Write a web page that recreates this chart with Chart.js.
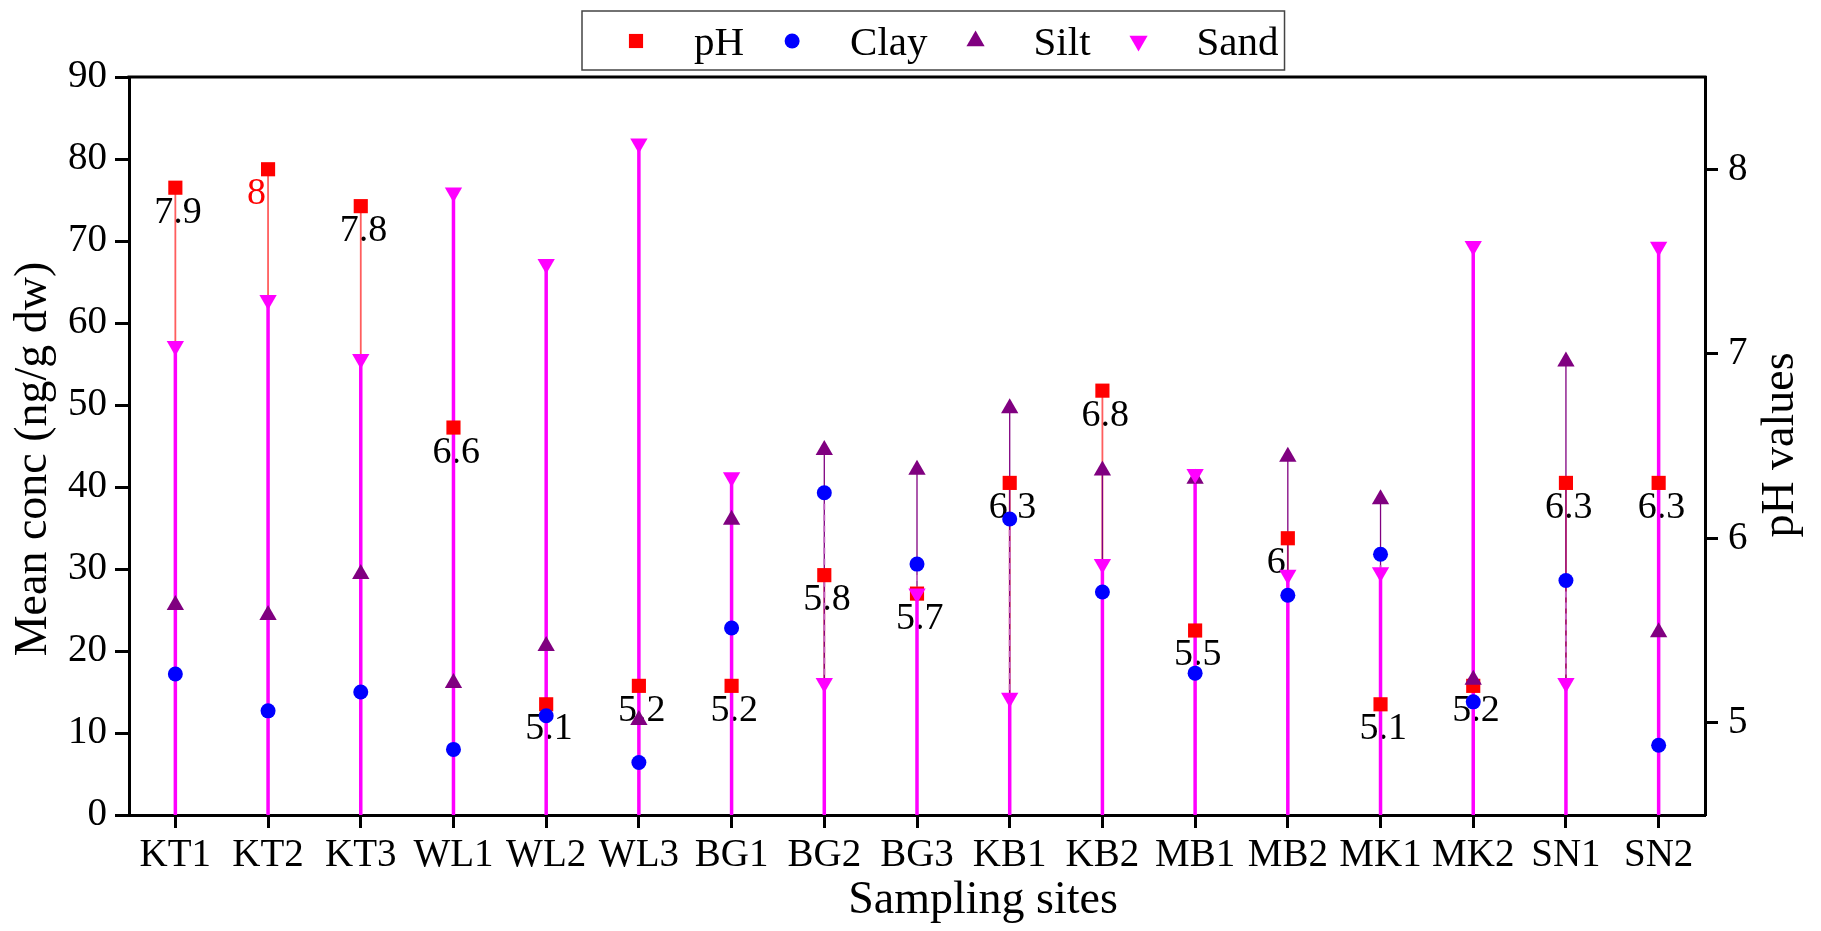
<!DOCTYPE html>
<html>
<head>
<meta charset="utf-8">
<script src="https://cdn.jsdelivr.net/npm/chart.js@4.4.1/dist/chart.umd.min.js"></script>
<style>
  html, body { margin: 0; padding: 0; background: #fff; }
</style>
</head>
<body>
<canvas id="chart" width="1821" height="931"></canvas>
<script>
// sampling sites on the x axis
const sites = ['KT1', 'KT2', 'KT3', 'WL1', 'WL2', 'WL3', 'BG1', 'BG2', 'BG3',
               'KB1', 'KB2', 'MB1', 'MB2', 'MK1', 'MK2', 'SN1', 'SN2'];
// pH (right axis)
const phValues = [7.9, 8, 7.8, 6.6, 5.1, 5.2, 5.2, 5.8, 5.7, 6.3, 6.8, 5.5, 6, 5.1, 5.2, 6.3, 6.3];
// grain size fractions (left axis)
const clay = [17.2, 12.7, 15.0, 8.0, 12.1, 6.4, 22.8, 39.3, 30.6, 36.1, 27.2, 17.3, 26.8, 31.8, 13.8, 28.6, 8.5];
const silt = [25.6, 24.4, 29.4, 16.1, 20.6, 11.6, 36.0, 44.5, 42.1, 49.6, 42.0, 41.0, 43.7, 38.5, 16.5, 55.3, 22.3];
const sand = [57.2, 62.8, 55.6, 75.9, 67.2, 81.9, 41.2, 16.1, 27.0, 14.3, 30.6, 41.6, 29.3, 29.6, 69.4, 16.1, 69.3];
// tick values
const concTicks = [0, 10, 20, 30, 40, 50, 60, 70, 80, 90];
const phTicks = [5, 6, 7, 8];

const FONT = '"Liberation Serif", "Times New Roman", serif';

// drop lines + pH value labels, drawn under the markers
const dropLinePlugin = {
  id: 'dropLines',
  beforeDatasetsDraw(chart) {
    const ctx = chart.ctx;
    const bottom = chart.chartArea.bottom;

    // pH labels
    const phMeta = chart.getDatasetMeta(0);
    ctx.save();
    ctx.font = '38px ' + FONT;
    ctx.textAlign = 'left';
    ctx.textBaseline = 'middle';
    phMeta.data.forEach((pt, i) => {
      ctx.fillStyle = i === 1 ? '#ff0000' : '#000000';
      ctx.fillText(String(phValues[i]), pt.x - 21, pt.y + 25);
    });
    ctx.restore();

    // lines, sand last so it sits on top
    [0, 2, 1, 3].forEach(di => {
      const ds = chart.data.datasets[di];
      const meta = chart.getDatasetMeta(di);
      const st = ds.dropLine;
      ctx.save();
      ctx.strokeStyle = st.color;
      ctx.lineWidth = st.width;
      ctx.setLineDash(st.dash || []);
      meta.data.forEach(pt => {
        ctx.beginPath();
        ctx.moveTo(pt.x, pt.y);
        ctx.lineTo(pt.x, bottom);
        ctx.stroke();
      });
      ctx.restore();
    });
  }
};

// top frame line, axis titles and the boxed legend
const decorPlugin = {
  id: 'decor',
  afterDraw(chart) {
    const ctx = chart.ctx;
    const a = chart.chartArea;
    ctx.save();
    ctx.strokeStyle = '#000';
    ctx.lineWidth = 3;
    ctx.beginPath();
    ctx.moveTo(a.left - 1.5, a.top);
    ctx.lineTo(a.right + 1.5, a.top);
    ctx.stroke();

    ctx.fillStyle = '#000';
    ctx.font = '46px ' + FONT;
    ctx.textAlign = 'center';
    ctx.textBaseline = 'middle';
    ctx.fillText('Sampling sites', (a.left + a.right) / 2 + 66, 901);

    // left title
    ctx.save();
    ctx.translate(34, 459);
    ctx.rotate(-Math.PI / 2);
    ctx.fillText('Mean conc (ng/g dw)', 0, 0);
    ctx.restore();

    // right title, same reading direction as the left one
    ctx.translate(1781, (a.top + a.bottom) / 2 - 1);
    ctx.rotate(-Math.PI / 2);
    ctx.fillText('pH values', 0, 0);
    ctx.restore();

    // legend
    const boxLeft = 582, boxTop = 11, boxBottom = 70, cy = 41;
    ctx.save();
    ctx.font = '41px ' + FONT;
    ctx.textBaseline = 'alphabetic';
    ctx.textAlign = 'left';
    let x = boxLeft + 54;
    let lastEnd = x;
    chart.data.datasets.forEach(ds => {
      ctx.fillStyle = ds.backgroundColor;
      Chart.helpers.drawPoint(ctx, {
        pointStyle: ds.pointStyle,
        radius: ds.legendRadius,
        rotation: ds.rotation || 0,
        borderWidth: 0
      }, x, cy);
      ctx.fillStyle = '#000';
      const tx = x + 58;
      ctx.fillText(ds.label, tx, 55);
      lastEnd = tx + ctx.measureText(ds.label).width;
      x = lastEnd + 48;
    });
    ctx.strokeStyle = '#444';
    ctx.lineWidth = 1.5;
    ctx.strokeRect(boxLeft, boxTop, lastEnd + 6 - boxLeft, boxBottom - boxTop);
    ctx.restore();
  }
};

const tickFont = { family: FONT, size: 39 };

new Chart(document.getElementById('chart'), {
  type: 'line',
  data: {
    labels: sites,
    datasets: [
      {
        label: 'pH', data: phValues, yAxisID: 'y1', showLine: false,
        pointStyle: 'rect', pointRadius: 10, legendRadius: 10, pointBorderWidth: 0,
        backgroundColor: '#ff0000', borderColor: '#ff0000', order: 4,
        dropLine: { color: 'rgba(255,40,40,0.75)', width: 1.8 }
      },
      {
        label: 'Clay', data: clay, yAxisID: 'y', showLine: false,
        pointStyle: 'circle', pointRadius: 7.5, legendRadius: 7.5, pointBorderWidth: 0,
        backgroundColor: '#0000ff', borderColor: '#0000ff', order: 3,
        dropLine: { color: 'rgba(200,110,200,0.9)', width: 2, dash: [6, 5] }
      },
      {
        label: 'Silt', data: silt, yAxisID: 'y', showLine: false,
        pointStyle: 'triangle', pointRadius: 10, legendRadius: 10.5, pointBorderWidth: 0,
        backgroundColor: '#800080', borderColor: '#800080', order: 2,
        dropLine: { color: '#800080', width: 1.3 }
      },
      {
        label: 'Sand', data: sand, yAxisID: 'y', showLine: false,
        pointStyle: 'triangle', rotation: 180, pointRotation: 180,
        pointRadius: 10, legendRadius: 10.5, pointBorderWidth: 0,
        backgroundColor: '#ff00ff', borderColor: '#ff00ff', order: 1,
        dropLine: { color: '#ff00ff', width: 3.5 }
      }
    ]
  },
  options: {
    responsive: false,
    animation: false,
    devicePixelRatio: 1,
    events: [],
    layout: { padding: { top: 77, left: 0, right: 0, bottom: 0 } },
    plugins: {
      legend: { display: false },
      tooltip: { enabled: false }
    },
    scales: {
      x: {
        offset: true,
        grid: { drawOnChartArea: false, drawTicks: true, tickLength: 13, tickWidth: 3, tickColor: '#000', offset: false },
        border: { display: true, color: '#000', width: 3 },
        ticks: { color: '#000', font: tickFont, padding: 4, maxRotation: 0, autoSkip: false },
        afterFit: s => { s.height = 116; }
      },
      y: {
        position: 'left',
        min: 0, max: 90,
        afterBuildTicks: s => { s.ticks = concTicks.map(v => ({ value: v })); },
        grid: { drawOnChartArea: false, drawTicks: true, tickLength: 14, tickWidth: 3, tickColor: '#000' },
        border: { display: true, color: '#000', width: 3 },
        ticks: { color: '#000', font: tickFont, padding: 8 },
        afterFit: s => { s.width = 129; }
      },
      y1: {
        position: 'right',
        min: 4.5, max: 8.5,
        afterBuildTicks: s => { s.ticks = phTicks.map(v => ({ value: v })); },
        grid: { drawOnChartArea: false, drawTicks: true, tickLength: 13, tickWidth: 3, tickColor: '#000' },
        border: { display: true, color: '#000', width: 3 },
        ticks: { color: '#000', font: tickFont, padding: 10 },
        afterFit: s => { s.width = 116; }
      }
    }
  },
  plugins: [dropLinePlugin, decorPlugin]
});
</script>
</body>
</html>
